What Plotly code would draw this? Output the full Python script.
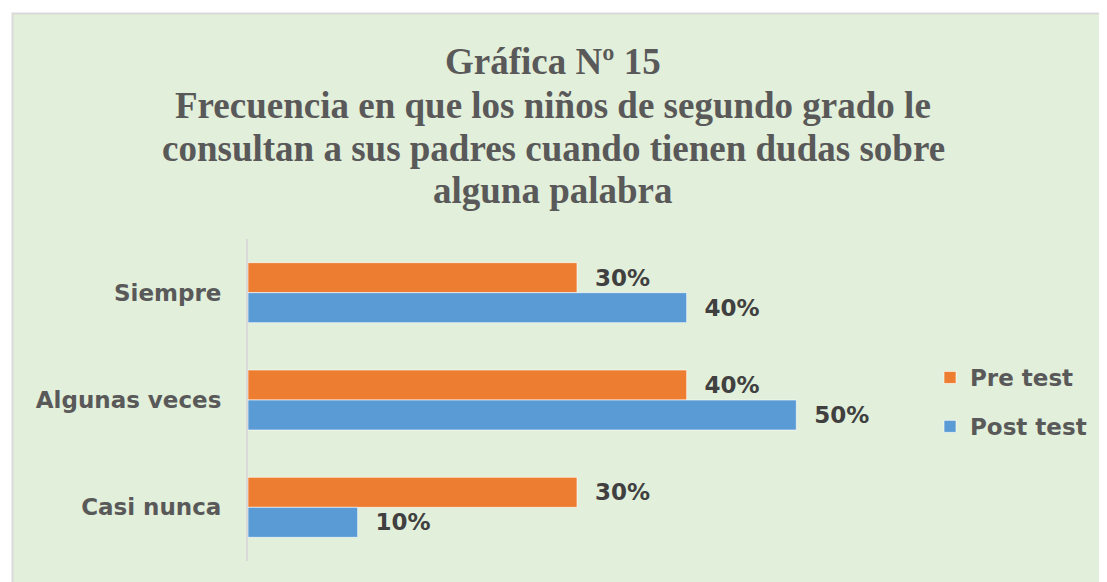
import plotly.graph_objects as go

categories = ["Siempre", "Algunas veces", "Casi nunca"]
pre_test = [0.30, 0.40, 0.30]
post_test = [0.40, 0.50, 0.10]
series_names = ["Pre test", "Post test"]
title_lines = [
    "Gráfica Nº 15",
    "Frecuencia en que los niños de segundo grado le",
    "consultan a sus padres cuando tienen dudas sobre",
    "alguna palabra",
]

# page has an 8px body margin; figure sized to fit the window
OFF = 8
W, H = 1107 - OFF, 582 - OFF
PLOT_L, PLOT_R, PLOT_T, PLOT_B = 248, 906, 239, 561  # page pixels
L, R, T, B = PLOT_L - OFF, W - (PLOT_R - OFF), PLOT_T - OFF, H - (PLOT_B - OFF)
PW, PH = W - L - R, H - T - B


def px_x(p):
    return (p - OFF - L) / PW


def px_y(p):
    return (H - B - (p - OFF)) / PH


label_font = dict(family="DejaVu Sans", size=23, color="#595959")
value_font = dict(family="DejaVu Sans", size=23, color="#404040")
gap = "\u00a0\u2009\u200a"

fig = go.Figure()
fig.add_trace(go.Bar(
    y=categories, x=pre_test, name="<b>" + series_names[0] + "</b>", orientation="h",
    marker=dict(color="#ED7D31", line=dict(color="rgba(255,255,255,0.6)", width=1)),
    texttemplate="<b>" + gap + "%{x:.0%}</b>", textposition="outside",
    textfont=value_font, cliponaxis=False, legendgroup="a",
))
fig.add_trace(go.Bar(
    y=categories, x=post_test, name="<b>" + series_names[1] + "</b>", orientation="h",
    marker=dict(color="#5B9BD5", line=dict(color="rgba(255,255,255,0.6)", width=1)),
    texttemplate="<b>" + gap + "%{x:.0%}</b>", textposition="outside",
    textfont=value_font, cliponaxis=False, legendgroup="b",
))

shapes = [dict(
    type="rect", xref="paper", yref="paper", layer="below",
    x0=px_x(12.5), x1=px_x(1120), y0=px_y(600), y1=px_y(13.5),
    fillcolor="#E2EFDA", line=dict(color="#D9D9D9", width=2),
)]

title_y = [62, 105, 148, 191]
annotations = []
for txt, yy in zip(title_lines, title_y):
    annotations.append(dict(
        text="<b>" + txt + "</b>", xref="paper", yref="paper",
        x=px_x(553), y=px_y(yy), xanchor="center", yanchor="middle",
        showarrow=False,
        font=dict(family="Liberation Serif", size=37, color="#595959"),
    ))

fig.update_layout(
    width=W, height=H,
    margin=dict(l=L, r=R, t=T, b=B, pad=0),
    paper_bgcolor="white", plot_bgcolor="rgba(0,0,0,0)",
    barmode="group", bargap=0.441, bargroupgap=0,
    showlegend=True,
    legend=dict(
        x=px_x(930), y=px_y(356), xanchor="left", yanchor="top",
        font=dict(family="DejaVu Sans", size=23, color="#595959"),
        bgcolor="rgba(0,0,0,0)", traceorder="grouped", tracegroupgap=16,
        itemclick=False,
    ),
    xaxis=dict(range=[0, 0.6], visible=False, showgrid=False, zeroline=False),
    yaxis=dict(
        autorange="reversed", showline=True, linecolor="#D9D9D9", linewidth=2,
        ticks="", ticklabelstandoff=20, showgrid=False,
        tickfont=label_font, tickprefix="<b>", ticksuffix="</b>",
    ),
    shapes=shapes, annotations=annotations,
    font=dict(family="DejaVu Sans"),
)

fig.write_html("out.html")
